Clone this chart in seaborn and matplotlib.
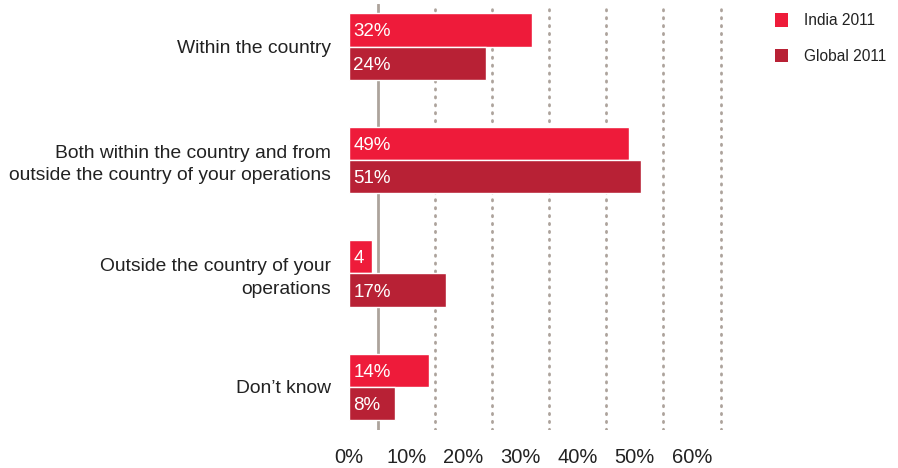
import matplotlib
matplotlib.use("Agg")
import matplotlib.pyplot as plt
import seaborn as sns
import pandas as pd
from matplotlib.patches import Patch

categories = [
    "Within the country",
    "Both within the country and from\noutside the country of your operations",
    "Outside the country of your\noperations",
    "Don\u2019t know",
]
series = ["India 2011", "Global 2011"]
india = [32, 49, 4, 14]
global_ = [24, 51, 17, 8]
india_labels = ["32%", "49%", "4", "14%"]
global_labels = ["24%", "51%", "17%", "8%"]
tick_values = [0, 10, 20, 30, 40, 50, 60]
tick_labels = ["0%", "10%", "20%", "30%", "40%", "50%", "60%"]
grid_values = [5, 15, 25, 35, 45, 55, 65]

colors = {"India 2011": "#EE1B3A", "Global 2011": "#B82135"}

df = pd.DataFrame({
    "category": categories * 2,
    "series": [series[0]] * 4 + [series[1]] * 4,
    "value": india + global_,
})

sns.set_theme(style="white")
plt.rcParams["font.family"] = ["Liberation Sans", "DejaVu Sans"]

fig = plt.figure(figsize=(8.98, 4.68), dpi=100)
ax = fig.add_axes([349 / 898, 1 - 430 / 468, (732 - 349) / 898, 426 / 468])

sns.barplot(data=df, y="category", x="value", hue="series", order=categories,
            hue_order=series, palette=colors, orient="h", width=0.585,
            saturation=1, legend=False, ax=ax, zorder=3)

# Reference lines: solid first, dotted after
for i, g in enumerate(grid_values):
    if i == 0:
        ax.axvline(g, color="#ADA39C", lw=2.0, zorder=1)
    else:
        ax.axvline(g, color="#ADA39C", lw=2.0, ls=(0, (0.45, 2.4)),
                   dash_capstyle="round", zorder=1)

# Value labels inside each bar
for container, labels in zip(ax.containers, [india_labels, global_labels]):
    for patch, text in zip(container.patches, labels):
        yc = patch.get_y() + patch.get_height() / 2
        ax.text(0.75, yc, text, color="white", fontsize=13.5,
                va="center_baseline", ha="left", zorder=4)

ax.set_xlim(0, 67)
ax.set_ylim(3.38, -0.375)
ax.set_xticks(tick_values)
ax.set_xticklabels(tick_labels, fontsize=14.5, color="#222222")
ax.tick_params(axis="x", length=0, pad=13)
ax.tick_params(axis="y", length=0, pad=13)
ax.set_yticks(range(len(categories)))
ax.set_yticklabels(categories, fontsize=13.9, color="#222222", linespacing=1.4)
ax.set_xlabel("")
ax.set_ylabel("")
for s in ax.spines.values():
    s.set_visible(False)

handles = [Patch(facecolor=colors[s], edgecolor="none", label=s) for s in series]
fig.legend(handles=handles, loc="upper left", bbox_to_anchor=(761 / 898, 1 + 1 / 468),
           frameon=False, fontsize=11.2, handlelength=0.85, handleheight=1.0,
           handletextpad=1.0, labelspacing=1.3, labelcolor="#222222")

fig.savefig("out.png", dpi=100)
